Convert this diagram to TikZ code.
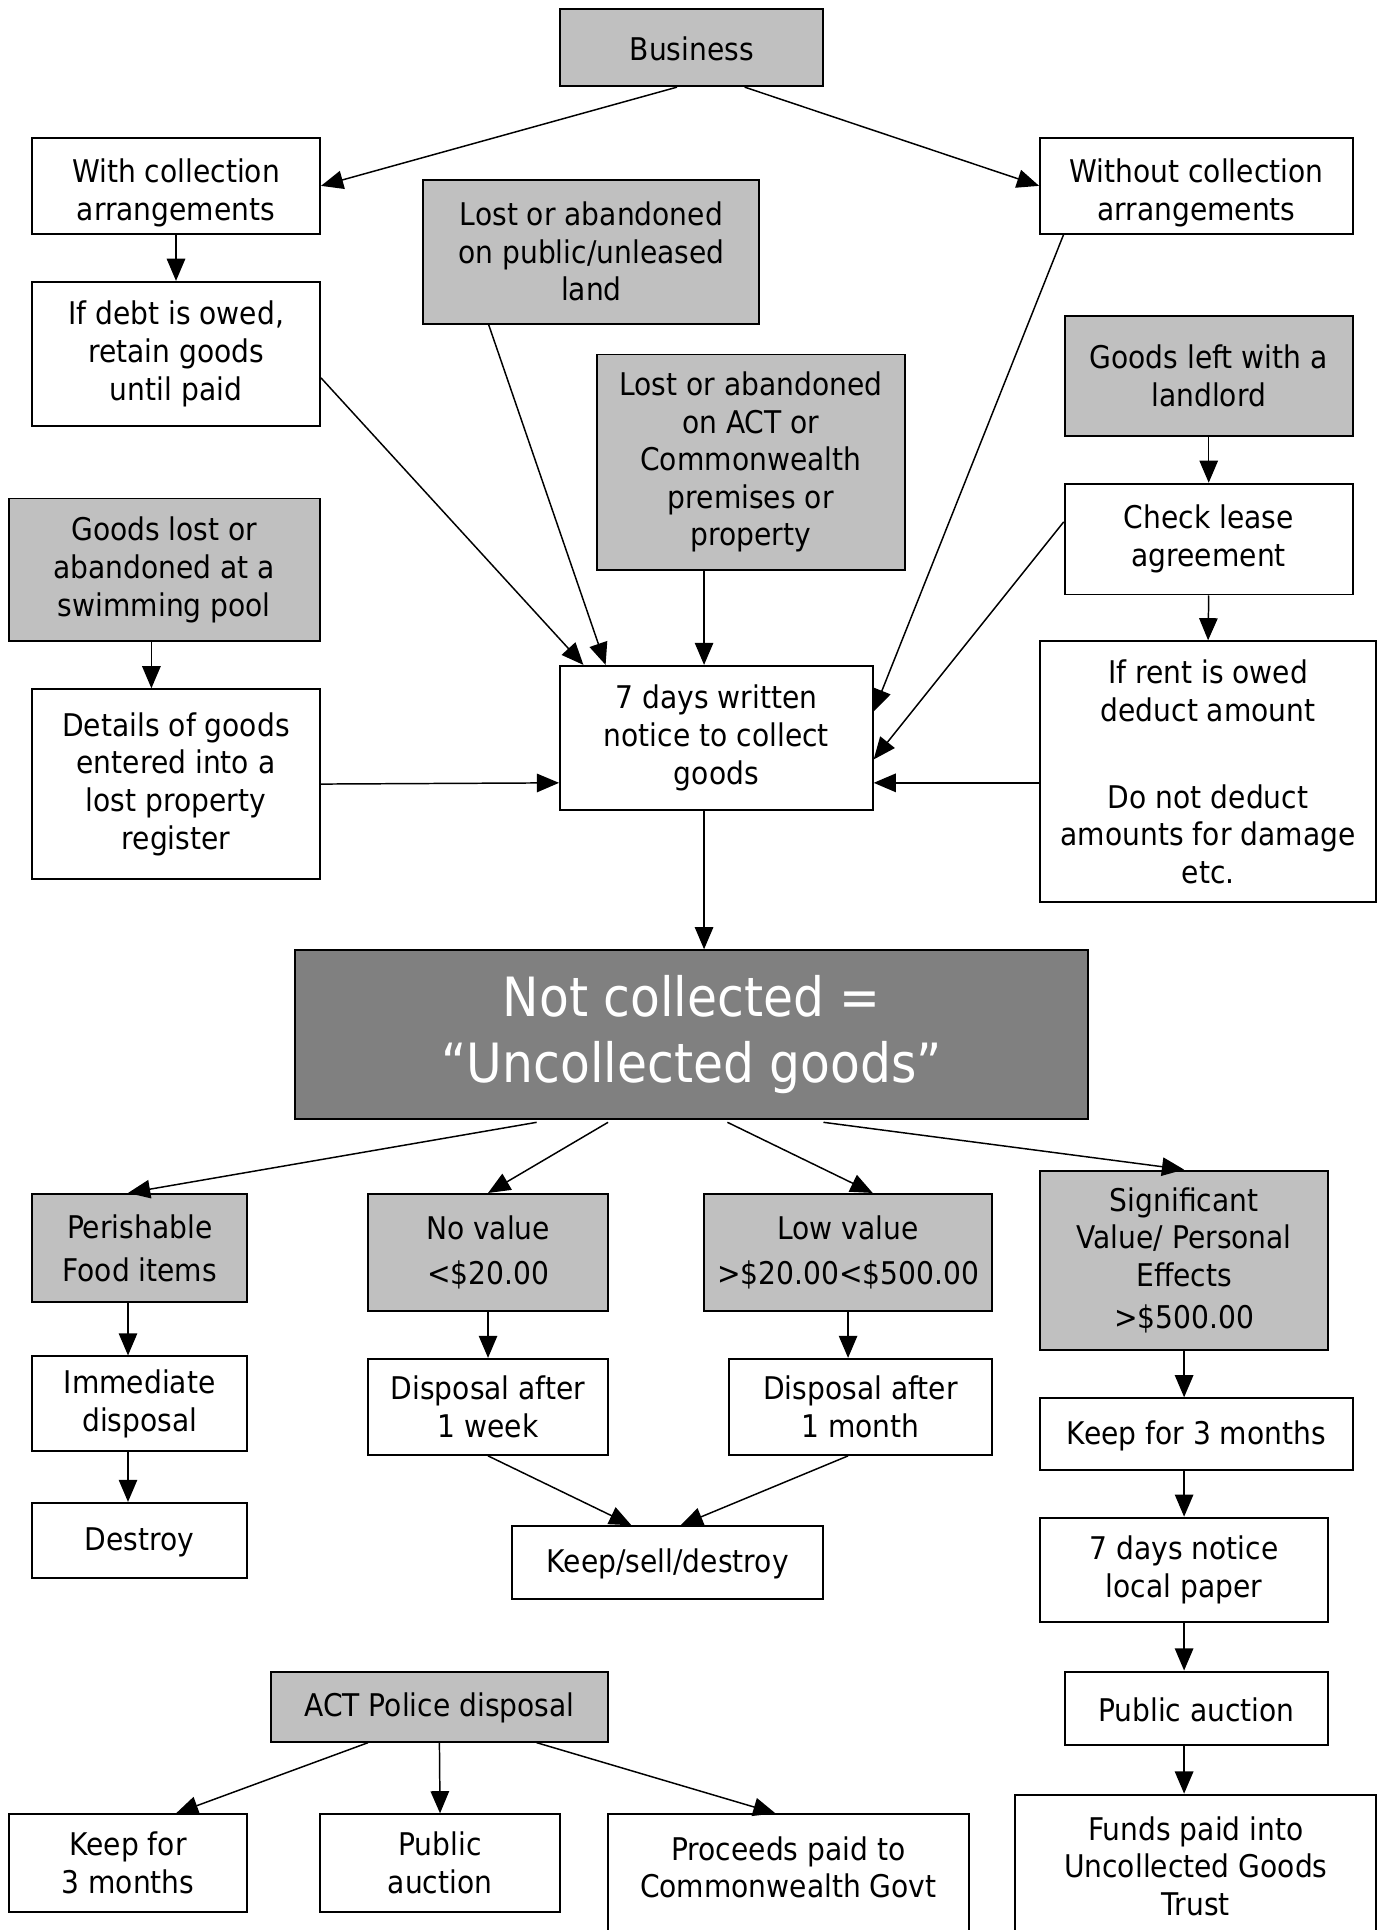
\documentclass[tikz,border=0pt]{standalone}
\usepackage{fontspec}
\setmainfont{DejaVu Sans}[FakeStretch=0.9]
\usepackage{tikz}
\usetikzlibrary{arrows.meta}
\definecolor{boxgrey}{HTML}{C0C0C0}
\definecolor{darkgrey}{HTML}{808080}
\begin{document}
\begin{tikzpicture}[x=0.5pt, y=-0.5pt,
  box/.style = {shape=rectangle, draw, line width=0.8pt,
    align=center, inner sep=1pt, fill=white,
    font=\fontsize{12.7}{15.25}\selectfont,
    execute at begin node=\rule{0pt}{11pt}},
  greybox/.style = {box, fill=boxgrey},
  bigbox/.style = {box, fill=darkgrey, text=white,
    font=\fontsize{22}{27}\selectfont},
  arr/.style = {-{Triangle[length=9pt, width=7.5pt]}, line width=0.6pt}]
  \useasboundingbox (0,0) rectangle (1126,1568);
  \node[greybox, minimum width=107pt, minimum height=31.5pt] (biz) at (562,38.5) {Business};
  \node[box, minimum width=117pt, minimum height=39pt] (withcol) at (143,151) {\rule{0pt}{15.5pt}With collection\\arrangements};
  \node[box, minimum width=127pt, minimum height=39pt] (without) at (972,151) {\rule{0pt}{15.5pt}Without collection\\arrangements};
  \node[greybox, minimum width=136.5pt, minimum height=58.5pt] (lostpub) at (480.5,204.5) {Lost or abandoned\\on public/unleased\\land};
  \node[box, minimum width=117pt, minimum height=58.5pt] (debt) at (143,287.5) {If debt is owed,\\retain goods\\until paid};
  \node[greybox, minimum width=125pt, minimum height=87.5pt] (lostact) at (610,375.5) {Lost or abandoned\\on ACT or\\Commonwealth\\premises or\\property};
  \node[greybox, minimum width=117pt, minimum height=48.5pt] (landlord) at (982,305.5) {Goods left with a\\landlord};
  \node[box, minimum width=117pt, minimum height=45pt] (lease) at (982,438) {Check lease\\agreement};
  \node[greybox, minimum width=126.5pt, minimum height=58pt] (pool) at (133.5,463) {Goods lost or\\abandoned at a\\swimming pool};
  \node[box, minimum width=117pt, minimum height=77pt] (details) at (143,637) {Details of goods\\entered into a\\lost property\\register};
  \node[box, minimum width=127pt, minimum height=58.5pt] (notice) at (582,599.5) {7 days written\\notice to collect\\goods};
  \node[box, minimum width=136.5pt, minimum height=106pt] (rent) at (981.5,627) {If rent is owed\\deduct amount\\[20pt]Do not deduct\\amounts for damage\\etc.};
  \node[bigbox, minimum width=322pt, minimum height=68.5pt] (notcol) at (562,840.5) {Not collected =\\“Uncollected goods”};
  \node[greybox, minimum width=87.5pt, minimum height=44pt] (perish) at (113.5,1014) {Perishable\\[2pt]Food items};
  \node[greybox, minimum width=97.5pt, minimum height=47.5pt] (novalue) at (396.5,1017.5) {No value\\[3pt]<\$20.00};
  \node[greybox, minimum width=117pt, minimum height=47.5pt] (lowvalue) at (689,1017.5) {Low value\\[3pt]>\$20.00<\$500.00};
  \node[greybox, minimum width=117pt, minimum height=73pt] (signif) at (962,1024) {Significant\\Value/ Personal\\Effects\\[2pt]>\$500.00};
  \node[box, minimum width=87.5pt, minimum height=38.5pt] (immed) at (113.5,1140.5) {Immediate\\disposal};
  \node[box, minimum width=97.5pt, minimum height=39pt] (week) at (396.5,1143) {Disposal after\\1 week};
  \node[box, minimum width=107pt, minimum height=39pt] (month) at (699,1143) {Disposal after\\1 month};
  \node[box, minimum width=127pt, minimum height=29pt] (keep) at (972,1165) {Keep for 3 months};
  \node[box, minimum width=87.5pt, minimum height=30.5pt] (destroy) at (113.5,1251.5) {Destroy};
  \node[box, minimum width=126.5pt, minimum height=29.5pt] (kssd) at (542.5,1269.5) {Keep/sell/destroy};
  \node[box, minimum width=117pt, minimum height=42.5pt] (paper) at (962,1275.5) {7 days notice\\local paper};
  \node[box, minimum width=107pt, minimum height=30pt] (auction) at (972,1388) {Public auction};
  \node[greybox, minimum width=137pt, minimum height=28.5pt] (police) at (357,1386.5) {ACT Police disposal};
  \node[box, minimum width=97pt, minimum height=39.5pt] (pkeep) at (104,1513.5) {Keep for\\3 months};
  \node[box, minimum width=97.5pt, minimum height=39.5pt] (pauction) at (357.5,1513.5) {Public\\auction};
  \node[box, minimum width=146.5pt, minimum height=58pt] (proceeds) at (640.5,1532) {Proceeds paid to\\Commonwealth Govt\\\mbox{}};
  \node[box, minimum width=146.5pt, minimum height=58pt] (funds) at (971.5,1516) {Funds paid into\\Uncollected Goods\\Trust};
  \draw[arr] ([xshift=-6pt]biz.south) -- (withcol.east);
  \draw[arr] ([xshift=21.5pt]biz.south) -- (without.west);
  \draw[arr] (withcol.south) -- (debt.north);
  \draw[arr] ([yshift=-9.75pt]debt.east) -- ([xshift=-54pt]notice.north);
  \draw[arr] ([xshift=-41.75pt]lostpub.south) -- ([xshift=-45pt]notice.north);
  \draw[arr] ([xshift=-19pt]lostact.south) -- ([xshift=-5pt]notice.north);
  \draw[arr] ([xshift=-54pt]without.south) -- ([yshift=10.75pt]notice.east);
  \draw[arr] ([yshift=7pt]lease.west) -- ([yshift=-8.75pt]notice.east);
  \draw[arr] ([yshift=-4.5pt]rent.west) -- ([yshift=-18.25pt]notice.east);
  \draw[arr] (landlord.south) -- (lease.north);
  \draw[arr] (lease.south) -- (rent.north);
  \draw[arr] ([xshift=-5.25pt]pool.south) -- ([xshift=-10pt]details.north);
  \draw[arr] (details.east) -- ([yshift=-18.25pt]notice.west);
  \draw[arr] ([xshift=-5pt]notice.south) -- ([xshift=5pt]notcol.north);
  \draw[arr] ([xshift=-63pt, yshift=-1pt]notcol.south) -- ([xshift=-4.75pt]perish.north);
  \draw[arr] ([xshift=-34pt, yshift=-1pt]notcol.south) -- (novalue.north);
  \draw[arr] ([xshift=14.5pt, yshift=-1pt]notcol.south) -- ([xshift=10pt]lowvalue.north);
  \draw[arr] ([xshift=53.5pt, yshift=-1pt]notcol.south) -- (signif.north);
  \draw[arr] ([xshift=-4.75pt]perish.south) -- ([xshift=-4.75pt]immed.north);
  \draw[arr] ([xshift=-4.75pt]immed.south) -- ([xshift=-4.75pt]destroy.north);
  \draw[arr] (novalue.south) -- (week.north);
  \draw[arr] (lowvalue.south) -- ([xshift=-5pt]month.north);
  \draw[arr] (week.south) -- ([xshift=-14.75pt]kssd.north);
  \draw[arr] ([xshift=-5pt]month.south) -- ([xshift=5.25pt]kssd.north);
  \draw[arr] (signif.south) -- ([xshift=-5pt]keep.north);
  \draw[arr] ([xshift=-5pt]keep.south) -- (paper.north);
  \draw[arr] (paper.south) -- ([xshift=-5pt]auction.north);
  \draw[arr] ([xshift=-5pt]auction.south) -- ([xshift=-4.75pt]funds.north);
  \draw[arr] ([xshift=-29pt]police.south) -- ([xshift=19.5pt]pkeep.north);
  \draw[arr] (police.south) -- (pauction.north);
  \draw[arr] ([xshift=39.5pt]police.south) -- ([xshift=-5.25pt]proceeds.north);
\end{tikzpicture}
\end{document}
